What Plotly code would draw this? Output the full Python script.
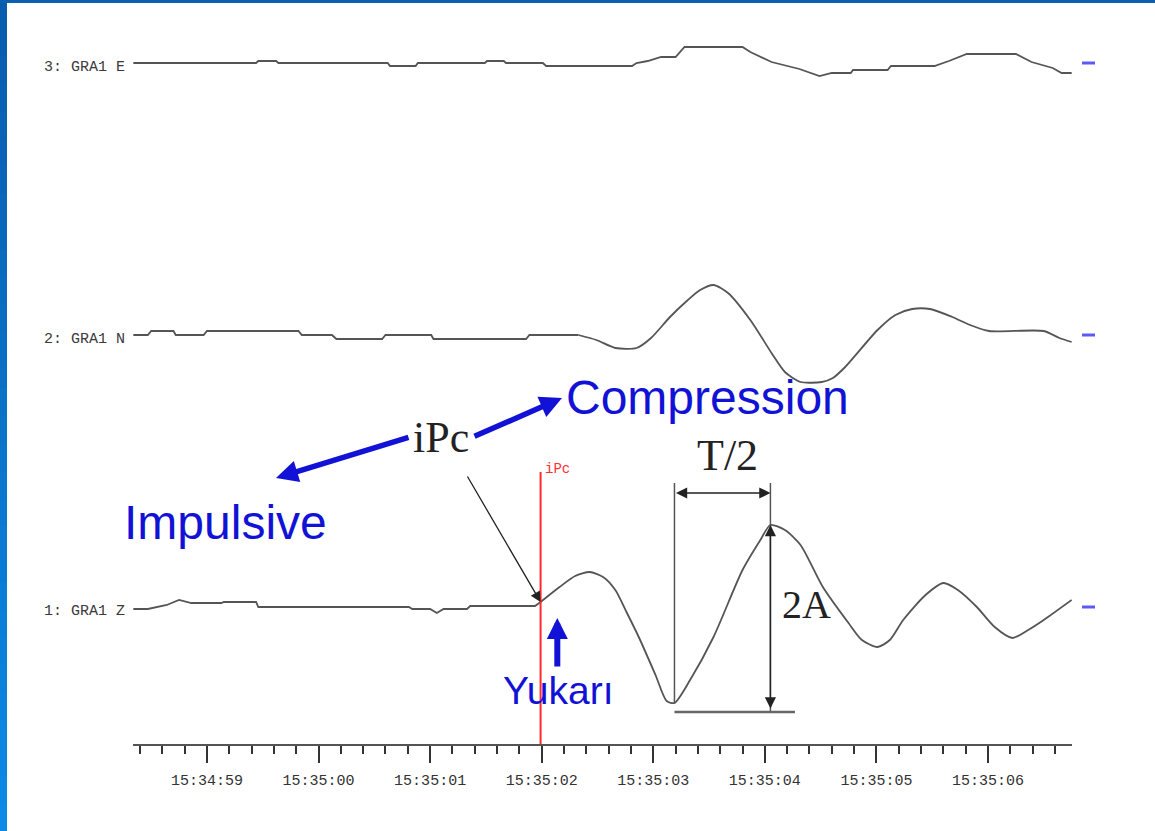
import numpy as np
import plotly.graph_objects as go

# Time axis: seconds after 15:34:58
tick_seconds = [1, 2, 3, 4, 5, 6, 7, 8]
tick_labels = ["15:34:59", "15:35:00", "15:35:01", "15:35:02",
               "15:35:03", "15:35:04", "15:35:05", "15:35:06"]

# Station GRA1, three components, drawn from top to bottom
channel_names = ["3: GRA1 E", "2: GRA1 N", "1: GRA1 Z"]
channel_offsets = [681, 409, 137]

e_time = [0.34, 1.44, 1.46, 1.62, 1.64, 2.62, 2.64, 2.87, 2.89, 3.49, 3.51, 3.66,
          3.68, 4.01, 4.04, 4.81, 4.85, 4.95, 5.07, 5.20, 5.28, 5.80, 5.87, 6.06,
          6.31, 6.49, 6.60, 6.77, 6.79, 7.10, 7.13, 7.52, 7.65, 7.81, 8.25, 8.39,
          8.58, 8.66, 8.75]
e_amp = [0, 0, 2, 2, 0, 0, -3, -3, 0, 0, 2, 2,
         0, 0, -3, -3, 0, 2, 6, 6, 16, 16, 11, 1,
         -6, -13, -10, -10, -7, -7, -3, -3, 2, 9, 9, 1,
         -5, -10, -10]

n_time = [0.34, 0.47, 0.50, 0.70, 0.72, 0.97, 1.00, 1.82, 1.85, 2.12, 2.16, 2.57,
          2.60, 3.01, 3.03, 3.86, 3.89, 4.33, 4.49, 4.66, 4.85, 4.98, 5.15, 5.31,
          5.42, 5.54, 5.67, 5.87, 6.06, 6.18, 6.32, 6.51, 6.61, 6.72, 7.01, 7.17,
          7.32, 7.48, 7.68, 7.84, 8.01, 8.50, 8.64, 8.75]
n_amp = [0, 0, 4, 4, 0, 0, 4, 4, 0, 0, -4, -4,
         0, 0, -4, -4, 0, 0, -5, -13, -13, -3, 18, 35,
         45, 50, 42, 15, -18, -37, -47, -47, -43, -32, 5, 20,
         26, 26, 18, 10, 4, 4, -3, -7]

z_time = [0.34, 0.47, 0.64, 0.75, 0.86, 1.13, 1.15, 1.44, 1.46, 2.81, 2.84, 3.00,
          3.06, 3.12, 3.33, 3.36, 3.94, 3.99, 4.16, 4.30, 4.43, 4.55, 4.66, 4.76,
          4.87, 5.02, 5.12, 5.19, 5.33, 5.54, 5.80, 5.96, 6.05, 6.18, 6.32, 6.52,
          6.75, 6.87, 7.01, 7.12, 7.24, 7.44, 7.60, 7.73, 7.90, 8.06, 8.22, 8.36,
          8.50, 8.75]
z_amp = [-2, -2, 2, 7, 4, 4, 5, 5, 0, 0, -2, -2,
         -6, -2, -2, 1, 1, 5, 20, 31, 35, 30, 17, -5,
         -30, -68, -94, -96, -73, -30, 37, 67, 82, 77, 62, 20,
         -16, -33, -40, -33, -13, 12, 24, 17, 0, -20, -31, -23,
         -13, 7]

pick_time = 3.99      # iPc onset on the Z component

# the quantised noise before the wave train is drawn straight, the wave train smoothed
smooth_from = [None, 4.33, 3.99]

channels = [(e_time, e_amp), (n_time, n_amp), (z_time, z_amp)]

W, H = 1155, 831
ML, MR, MT, MB = 133, 83, 0, 87
PW, PH = W - ML - MR, H - MT - MB


def px(x):
    return (x - ML) / PW


def py(y):
    return (PH - y) / PH


BLUE = "#1212d6"
TRACE = "#555555"
INK = "#222222"
MONO = "Liberation Mono"

fig = go.Figure()


def add_line(t, y, shape):
    fig.add_trace(go.Scatter(
        x=t, y=y, mode="lines",
        line=dict(color=TRACE, width=1.8, shape=shape, smoothing=0.7),
        hoverinfo="skip", showlegend=False))


for (t, a), off, ts in zip(channels, channel_offsets, smooth_from):
    y = [off + v for v in a]
    if ts is None:
        add_line(t, y, "linear")
    else:
        k = t.index(ts)
        add_line(t[:k + 1], y[:k + 1], "linear")
        add_line(t[k:], y[k:], "spline")

z_off = channel_offsets[2]
i_tr = int(np.argmin(z_amp))
i_pk = int(np.argmax(z_amp))
t_tr, a_tr = z_time[i_tr], z_amp[i_tr]
t_pk, a_pk = z_time[i_pk], z_amp[i_pk]
y_tr = z_off + a_tr
y_pk = z_off + a_pk
y_base_line = y_tr - 9
y_half = 251
y_top = 261
onset_amp = z_amp[z_time.index(pick_time)]

shapes = []
# window frame: left band shading from dark to lighter blue, thin top rule
n_band = 30
step = H / n_band
for k in range(n_band):
    f = k / (n_band - 1)
    g, b = int(92 + 46 * f), int(172 + 58 * f)
    shapes.append(dict(type="rect", xref="paper", yref="paper",
                       x0=px(0), x1=px(7), y0=py(min(H, (k + 1) * step + 2)), y1=py(k * step),
                       fillcolor=f"rgb(10,{g},{b})", line=dict(width=0), layer="above"))
shapes.append(dict(type="rect", xref="paper", yref="paper",
                   x0=px(0), x1=px(W), y0=py(3), y1=py(0),
                   fillcolor="#0c60b2", line=dict(width=0), layer="above"))

# channel end markers on the right
for off in channel_offsets:
    shapes.append(dict(type="line", xref="paper", yref="paper",
                       x0=px(1082), x1=px(1095), y0=off / PH, y1=off / PH,
                       line=dict(color="#5c5cf5", width=3)))

# pick line
shapes.append(dict(type="line", xref="x", yref="y", x0=pick_time, x1=pick_time,
                   y0=0, y1=272, line=dict(color="#ff2a2a", width=2)))
# T/2 and 2A construction lines
shapes.append(dict(type="line", xref="x", yref="y", x0=t_tr, x1=t_tr,
                   y0=y_tr, y1=y_top, line=dict(color="#555555", width=1.5)))
shapes.append(dict(type="line", xref="x", yref="y", x0=t_pk, x1=t_pk,
                   y0=y_base_line, y1=y_top, line=dict(color="#555555", width=1.5)))
shapes.append(dict(type="line", xref="x", yref="y", x0=t_tr, x1=t_pk + 0.22,
                   y0=y_base_line, y1=y_base_line, line=dict(color="#666666", width=2.5)))

ann = []
for name, off in zip(channel_names, channel_offsets):
    ann.append(dict(text=name, xref="paper", yref="y", x=px(127), y=off,
                    xanchor="right", yanchor="middle", yshift=-4, showarrow=False,
                    font=dict(family=MONO, size=15, color="#3a3a3a")))

ann.append(dict(text="iPc", xref="x", yref="y", x=pick_time, y=275, xshift=2,
                xanchor="left", yanchor="middle", showarrow=False,
                font=dict(family=MONO, size=14, color="#ff3030")))

# T/2 double arrow
ann.append(dict(text="", xref="x", yref="y", x=t_pk, y=y_half, axref="x", ayref="y",
                ax=t_tr, ay=y_half, showarrow=True, arrowside="end+start",
                arrowhead=2, arrowsize=1.6, arrowwidth=1.4, arrowcolor=INK))
# 2A double arrow
ann.append(dict(text="", xref="x", yref="y", x=t_pk, y=y_pk, axref="x", ayref="y",
                ax=t_pk, ay=y_base_line + 2, showarrow=True, arrowside="end+start",
                arrowhead=2, arrowsize=1.6, arrowwidth=1.4, arrowcolor=INK))
ann.append(dict(text="T/2", xref="x", yref="y", x=(t_tr + t_pk) / 2, y=289, xshift=5,
                xanchor="center", yanchor="middle", showarrow=False,
                font=dict(family="Liberation Serif", size=44, color=INK)))
ann.append(dict(text="2A", xref="x", yref="y", x=t_pk, y=140, xshift=10,
                xanchor="left", yanchor="middle", showarrow=False,
                font=dict(family="Liberation Serif", size=40, color=INK)))

# iPc pointer to the onset
ann.append(dict(text="", xref="x", yref="y", x=pick_time, y=z_off + onset_amp,
                ax=-74, ay=-127, showarrow=True, arrowhead=2, arrowsize=1.6,
                arrowwidth=1.3, arrowcolor=INK))
ann.append(dict(text="iPc", xref="paper", yref="paper", x=px(441), y=py(437),
                xanchor="center", yanchor="middle", showarrow=False,
                font=dict(family="Liberation Serif", size=44, color=INK)))

# blue labels
ann.append(dict(text="", xref="paper", yref="paper", x=px(276), y=py(478),
                ax=134, ay=-41, showarrow=True, arrowhead=2, arrowsize=0.8,
                arrowwidth=5.5, arrowcolor=BLUE))
ann.append(dict(text="", xref="paper", yref="paper", x=px(562), y=py(398),
                ax=-89, ay=39, showarrow=True, arrowhead=2, arrowsize=0.8,
                arrowwidth=5.5, arrowcolor=BLUE))
ann.append(dict(text="Compression", xref="paper", yref="paper", x=px(564), y=py(397),
                xanchor="left", yanchor="middle", showarrow=False,
                font=dict(family="Liberation Sans", size=48, color=BLUE)))
ann.append(dict(text="Impulsive", xref="paper", yref="paper", x=px(122), y=py(522),
                xanchor="left", yanchor="middle", showarrow=False,
                font=dict(family="Liberation Sans", size=48, color=BLUE)))

# upward first motion
ann.append(dict(text="", xref="x", yref="y", x=pick_time + 0.15, y=z_off - 11,
                ax=0, ay=50, showarrow=True, arrowhead=2, arrowsize=0.7,
                arrowwidth=6, arrowcolor=BLUE))
ann.append(dict(text="Yukarı", xref="x", yref="y", x=pick_time + 0.16, y=54,
                xanchor="center", yanchor="middle", showarrow=False,
                font=dict(family="Liberation Sans", size=39, color=BLUE)))

fig.update_layout(
    width=W, height=H,
    margin=dict(l=ML, r=MR, t=MT, b=MB, pad=0),
    paper_bgcolor="white", plot_bgcolor="white",
    shapes=shapes, annotations=ann,
    xaxis=dict(range=[0.337, 8.753], showgrid=False, zeroline=False,
               showline=True, linecolor="#555555", linewidth=2,
               tickmode="array", tickvals=tick_seconds, ticktext=tick_labels,
               ticks="outside", ticklen=17, tickwidth=1.5, tickcolor="#333333",
               ticklabelstandoff=4,
               tickfont=dict(family=MONO, size=15, color="#333333"),
               minor=dict(dtick=0.2, tick0=0, ticks="outside", ticklen=8,
                          tickwidth=1.5, tickcolor="#333333", showgrid=False)),
    yaxis=dict(range=[0, PH], visible=False, fixedrange=True),
)

fig.write_html("out.html", config={"displayModeBar": False})
